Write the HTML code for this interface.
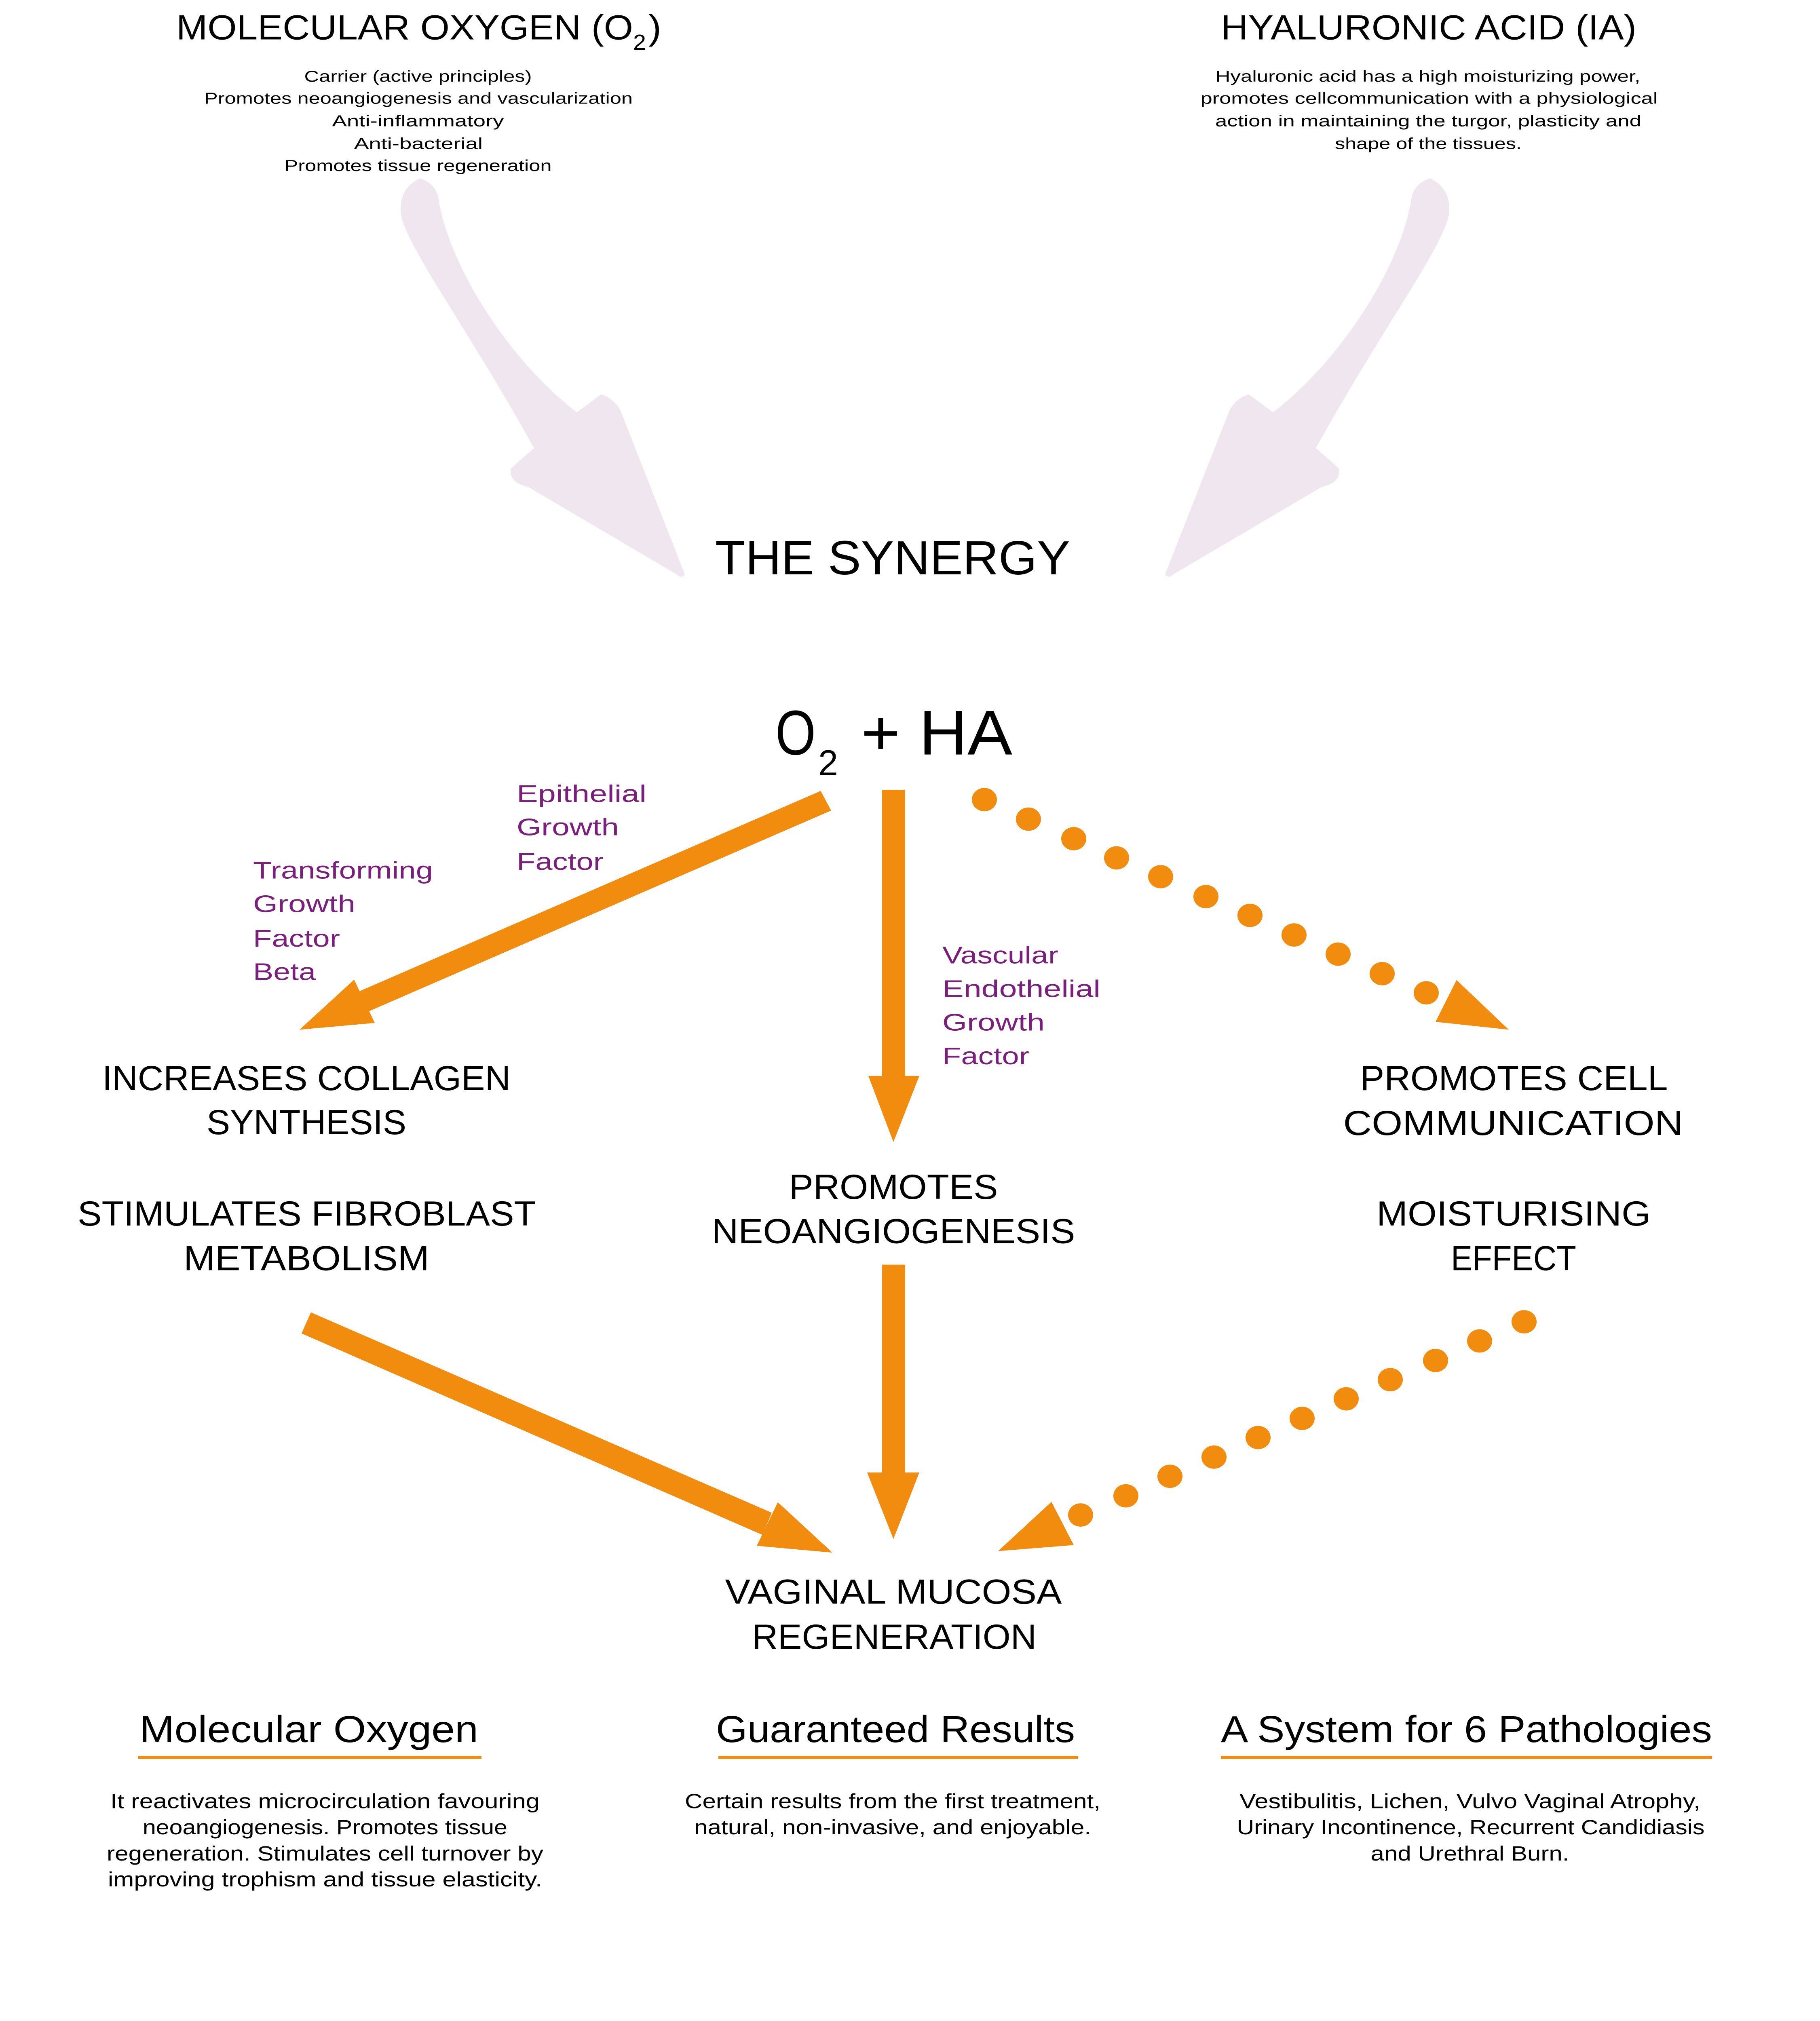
<!DOCTYPE html>
<html><head><meta charset="utf-8"><style>
html,body{margin:0;padding:0;background:#fff;overflow:hidden;width:100%;height:100%;}
svg{display:block;width:100vw;height:100vh;}
text{font-family:"Liberation Sans",sans-serif;}
</style></head><body>
<svg viewBox="0 0 4502 5376" preserveAspectRatio="none" xmlns="http://www.w3.org/2000/svg">
<rect width="4502" height="5376" fill="#fff"/>
<g fill="#efe6f0">
<path d="M1039,474 Q1080,490 1085,531 C1110,700 1250,950 1427,1097 L1487,1049 Q1520,1060 1536,1095 L1694,1528 Q1684,1540 1674,1528 L1306,1295 Q1260,1285 1263,1247 L1321,1192 C1150,860 1000,650 991,564 Q988,500 1039,474 Z"/>
<path d="M1039,474 Q1080,490 1085,531 C1110,700 1250,950 1427,1097 L1487,1049 Q1520,1060 1536,1095 L1694,1528 Q1684,1540 1674,1528 L1306,1295 Q1260,1285 1263,1247 L1321,1192 C1150,860 1000,650 991,564 Q988,500 1039,474 Z" transform="translate(4576,0) scale(-1,1)"/>
</g>
<g fill="#000">
<text x="436" y="105" font-size="93" textLength="1130" lengthAdjust="spacingAndGlyphs">MOLECULAR OXYGEN (O</text>
<text x="1566" y="132" font-size="58" textLength="32" lengthAdjust="spacingAndGlyphs">2</text>
<text x="1604" y="105" font-size="93" textLength="32" lengthAdjust="spacingAndGlyphs">)</text>
<text x="3020" y="105" font-size="93" textLength="1028" lengthAdjust="spacingAndGlyphs">HYALURONIC ACID (IA)</text>
</g>
<g fill="#000" font-size="42" text-anchor="middle">
<text x="1034" y="217" textLength="563" lengthAdjust="spacingAndGlyphs">Carrier (active principles)</text>
<text x="1035" y="276" textLength="1060" lengthAdjust="spacingAndGlyphs">Promotes neoangiogenesis and vascularization</text>
<text x="1034" y="336" textLength="425" lengthAdjust="spacingAndGlyphs">Anti-inflammatory</text>
<text x="1035" y="396" textLength="318" lengthAdjust="spacingAndGlyphs">Anti-bacterial</text>
<text x="1034" y="455" textLength="661" lengthAdjust="spacingAndGlyphs">Promotes tissue regeneration</text>
<text x="3532" y="217" textLength="1051" lengthAdjust="spacingAndGlyphs">Hyaluronic acid has a high moisturizing power,</text>
<text x="3535" y="276" textLength="1131" lengthAdjust="spacingAndGlyphs">promotes cellcommunication with a physiological</text>
<text x="3533" y="336" textLength="1054" lengthAdjust="spacingAndGlyphs">action in maintaining the turgor, plasticity and</text>
<text x="3533" y="396" textLength="462" lengthAdjust="spacingAndGlyphs">shape of the tissues.</text>
</g>
<text x="1769" y="1528" font-size="128" textLength="878" lengthAdjust="spacingAndGlyphs" fill="#000">THE SYNERGY</text>
<text x="1918" y="2007" font-size="168" textLength="100" lengthAdjust="spacingAndGlyphs" fill="#000">O</text>
<text x="2024" y="2062" font-size="96" textLength="49" lengthAdjust="spacingAndGlyphs" fill="#000">2</text>
<text x="2130" y="2007" font-size="168" textLength="374" lengthAdjust="spacingAndGlyphs" fill="#000">+ HA</text>
<g fill="#f18c0e">
<polygon points="2030,2104 2056,2156 904,2694 878,2642"/>
<polygon points="876,2606 741,2739 927,2721"/>
<rect x="2182" y="2101" width="57" height="765"/>
<polygon points="2148,2862 2274,2862 2210,3038"/>
<polygon points="3603,2607 3732,2739 3551,2718"/>
<polygon points="769,3491 746,3547 1886,4083 1909,4024"/>
<polygon points="1924,3996 2059,4130 1872,4112"/>
<rect x="2182" y="3364" width="57" height="556"/>
<polygon points="2145,3917 2274,3917 2210,4094"/>
<polygon points="2601,3995 2469,4126 2656,4110"/>
<circle cx="2435" cy="2127" r="31"/><circle cx="2544" cy="2179" r="31"/><circle cx="2656" cy="2231" r="31"/>
<circle cx="2762" cy="2282" r="31"/><circle cx="2871" cy="2332" r="31"/><circle cx="2983" cy="2385" r="31"/>
<circle cx="3092" cy="2435" r="31"/><circle cx="3201" cy="2487" r="31"/><circle cx="3310" cy="2538" r="31"/>
<circle cx="3419" cy="2590" r="31"/><circle cx="3528" cy="2641" r="31"/>
<circle cx="3770" cy="3516" r="31"/><circle cx="3660" cy="3567" r="31"/><circle cx="3551" cy="3619" r="31"/>
<circle cx="3439" cy="3670" r="31"/><circle cx="3330" cy="3721" r="31"/><circle cx="3221" cy="3773" r="31"/>
<circle cx="3112" cy="3824" r="31"/><circle cx="3003" cy="3876" r="31"/><circle cx="2894" cy="3927" r="31"/>
<circle cx="2785" cy="3979" r="31"/><circle cx="2673" cy="4030" r="31"/>
</g>
<g fill="#7a1f7b" font-size="64">
<text x="1278" y="2133" textLength="321" lengthAdjust="spacingAndGlyphs">Epithelial</text>
<text x="1278" y="2222" textLength="253" lengthAdjust="spacingAndGlyphs">Growth</text>
<text x="1278" y="2314" textLength="215" lengthAdjust="spacingAndGlyphs">Factor</text>
<text x="626" y="2337" textLength="445" lengthAdjust="spacingAndGlyphs">Transforming</text>
<text x="626" y="2426" textLength="253" lengthAdjust="spacingAndGlyphs">Growth</text>
<text x="626" y="2518" textLength="215" lengthAdjust="spacingAndGlyphs">Factor</text>
<text x="626" y="2607" textLength="155" lengthAdjust="spacingAndGlyphs">Beta</text>
<text x="2331" y="2563" textLength="287" lengthAdjust="spacingAndGlyphs">Vascular</text>
<text x="2331" y="2652" textLength="391" lengthAdjust="spacingAndGlyphs">Endothelial</text>
<text x="2331" y="2741" textLength="253" lengthAdjust="spacingAndGlyphs">Growth</text>
<text x="2331" y="2831" textLength="215" lengthAdjust="spacingAndGlyphs">Factor</text>
</g>
<g fill="#000" font-size="93" text-anchor="middle">
<text x="758" y="2900" textLength="1010" lengthAdjust="spacingAndGlyphs">INCREASES COLLAGEN</text>
<text x="758" y="3017" textLength="494" lengthAdjust="spacingAndGlyphs">SYNTHESIS</text>
<text x="759" y="3260" textLength="1134" lengthAdjust="spacingAndGlyphs">STIMULATES FIBROBLAST</text>
<text x="758" y="3379" textLength="608" lengthAdjust="spacingAndGlyphs">METABOLISM</text>
<text x="2210" y="3189" textLength="517" lengthAdjust="spacingAndGlyphs">PROMOTES</text>
<text x="2210" y="3307" textLength="899" lengthAdjust="spacingAndGlyphs">NEOANGIOGENESIS</text>
<text x="3745" y="2900" textLength="761" lengthAdjust="spacingAndGlyphs">PROMOTES CELL</text>
<text x="3743" y="3019" textLength="841" lengthAdjust="spacingAndGlyphs">COMMUNICATION</text>
<text x="3744" y="3260" textLength="678" lengthAdjust="spacingAndGlyphs">MOISTURISING</text>
<text x="3744" y="3379" textLength="310" lengthAdjust="spacingAndGlyphs">EFFECT</text>
<text x="2210" y="4266" textLength="833" lengthAdjust="spacingAndGlyphs">VAGINAL MUCOSA</text>
<text x="2212" y="4386" textLength="704" lengthAdjust="spacingAndGlyphs">REGENERATION</text>
</g>
<g fill="#000" font-size="100">
<text x="345" y="4634" textLength="838" lengthAdjust="spacingAndGlyphs">Molecular Oxygen</text>
<text x="1771" y="4634" textLength="888" lengthAdjust="spacingAndGlyphs">Guaranteed Results</text>
<text x="3020" y="4634" textLength="1215" lengthAdjust="spacingAndGlyphs">A System for 6 Pathologies</text>
</g>
<g fill="#f18c0e">
<rect x="342" y="4671" width="849" height="8"/>
<rect x="1777" y="4671" width="890" height="8"/>
<rect x="3020" y="4671" width="1215" height="8"/>
</g>
<g fill="#000" font-size="55" text-anchor="middle">
<text x="804" y="4810" textLength="1062" lengthAdjust="spacingAndGlyphs">It reactivates microcirculation favouring</text>
<text x="804" y="4879" textLength="902" lengthAdjust="spacingAndGlyphs">neoangiogenesis. Promotes tissue</text>
<text x="804" y="4949" textLength="1080" lengthAdjust="spacingAndGlyphs">regeneration. Stimulates cell turnover by</text>
<text x="804" y="5018" textLength="1074" lengthAdjust="spacingAndGlyphs">improving trophism and tissue elasticity.</text>
<text x="2208" y="4810" textLength="1028" lengthAdjust="spacingAndGlyphs">Certain results from the first treatment,</text>
<text x="2208" y="4879" textLength="982" lengthAdjust="spacingAndGlyphs">natural, non-invasive, and enjoyable.</text>
<text x="3636" y="4810" textLength="1140" lengthAdjust="spacingAndGlyphs">Vestibulitis, Lichen, Vulvo Vaginal Atrophy,</text>
<text x="3638" y="4879" textLength="1157" lengthAdjust="spacingAndGlyphs">Urinary Incontinence, Recurrent Candidiasis</text>
<text x="3636" y="4949" textLength="491" lengthAdjust="spacingAndGlyphs">and Urethral Burn.</text>
</g>
</svg>
</body></html>
